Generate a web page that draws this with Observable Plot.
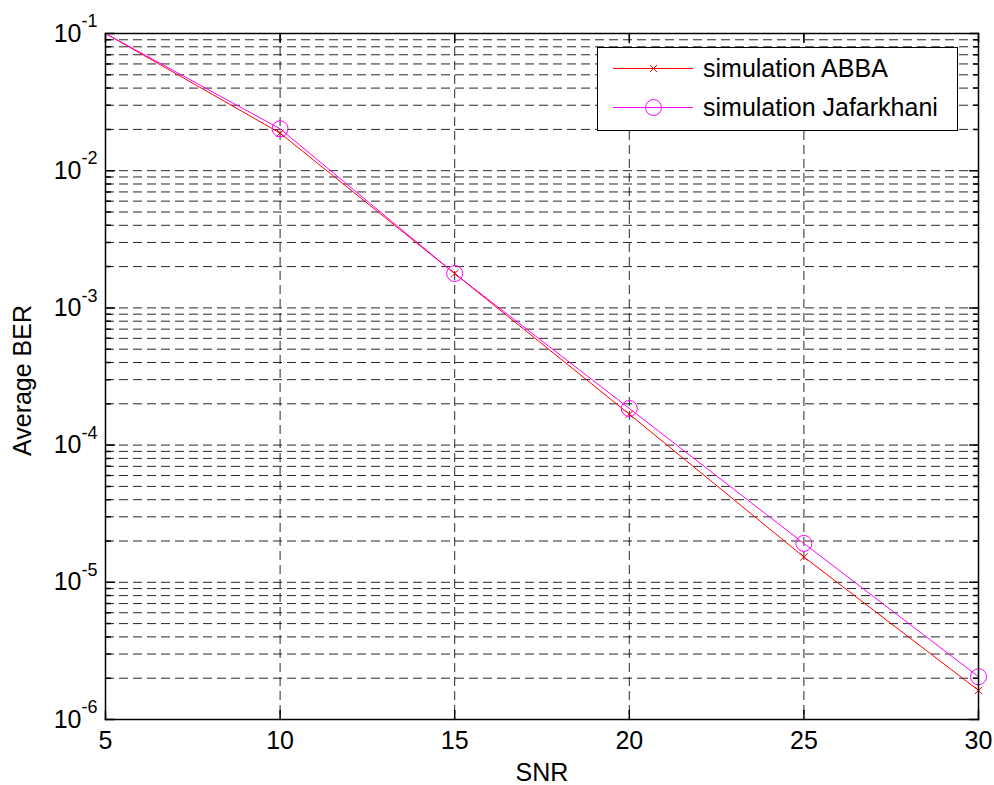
<!DOCTYPE html>
<html>
<head>
<meta charset="utf-8">
<script src="https://cdn.jsdelivr.net/npm/d3@7"></script>
<script src="https://cdn.jsdelivr.net/npm/@observablehq/plot@0.6"></script>
<style>
  html, body { margin: 0; padding: 0; background: #fff; }
  #wrap { position: relative; width: 994px; height: 785px; font-family: "Liberation Sans", Arial, sans-serif; }
  #wrap > svg { position: absolute; left: 0; top: 0; }
</style>
</head>
<body>
<div id="wrap"></div>
<script>
// ---- data ----
const snr = [5, 10, 15, 20, 25, 30];
const berABBA = [0.1, 0.0188, 0.00178, 0.000168, 0.0000153, 0.00000163];
const berJafarkhani = [0.1, 0.0202, 0.00178, 0.000185, 0.0000192, 0.00000205];
const seriesNames = ["simulation ABBA", "simulation Jafarkhani"];
const seriesColors = ["#ff0000", "#ff00ff"];
const seriesSymbols = ["times", "circle"];
const xTicks = [5, 10, 15, 20, 25, 30];
const yExponents = [-6, -5, -4, -3, -2, -1];
const xLabel = "SNR";
const yLabel = "Average BER";

// ---- derived tables ----
const yDecades = yExponents.map(e => Math.pow(10, e));
const yMinor = [];
yDecades.slice(0, -1).forEach(d => { for (let m = 2; m <= 9; m++) yMinor.push(d * m); });
const yAllGrid = yDecades.concat(yMinor);

const series = [berABBA, berJafarkhani];
const rows = [];
series.forEach((vals, s) => vals.forEach((v, i) => rows.push({snr: snr[i], ber: v, name: seriesNames[s]})));
const markerRows = rows.filter(d => d.snr > snr[0]);

const tickShape = {draw(context, l) { context.moveTo(0, 0); context.lineTo(0, -l); }};
const FS = 25;

const chart = Plot.plot({
  width: 994,
  height: 785,
  marginLeft: 105,
  marginRight: 16,
  marginTop: 33,
  marginBottom: 66,
  style: {fontFamily: "'Liberation Sans', Arial, sans-serif", background: "#fff", color: "#000"},
  x: {domain: [5, 30], axis: null},
  y: {type: "log", domain: [1e-6, 1e-1], axis: null},
  color: {domain: seriesNames, range: seriesColors},
  marks: [
    Plot.gridY(yAllGrid, {stroke: "#000", strokeOpacity: 0.85, strokeWidth: 1, strokeDasharray: "9,5"}),
    Plot.gridX(xTicks, {stroke: "#000", strokeOpacity: 0.85, strokeWidth: 1, strokeDasharray: "9,5"}),
    // inward tick marks
    Plot.vector(xTicks, {x: d => d, frameAnchor: "bottom", length: 9, rotate: 0, anchor: "start", shape: tickShape, stroke: "#000"}),
    Plot.vector(xTicks, {x: d => d, frameAnchor: "top", length: 9, rotate: 180, anchor: "start", shape: tickShape, stroke: "#000"}),
    Plot.vector(yDecades, {y: d => d, frameAnchor: "left", length: 9, rotate: 90, anchor: "start", shape: tickShape, stroke: "#000"}),
    Plot.vector(yDecades, {y: d => d, frameAnchor: "right", length: 9, rotate: -90, anchor: "start", shape: tickShape, stroke: "#000"}),
    Plot.vector(yMinor, {y: d => d, frameAnchor: "left", length: 5, rotate: 90, anchor: "start", shape: tickShape, stroke: "#000"}),
    Plot.vector(yMinor, {y: d => d, frameAnchor: "right", length: 5, rotate: -90, anchor: "start", shape: tickShape, stroke: "#000"}),
    // series
    Plot.line(rows, {x: "snr", y: "ber", z: "name", stroke: "name", strokeWidth: 1, clip: true}),
    Plot.dot(markerRows.filter(d => d.name === seriesNames[0]), {x: "snr", y: "ber", symbol: () => seriesSymbols[0], r: 3.5, stroke: seriesColors[0], strokeWidth: 1}),
    Plot.dot(markerRows.filter(d => d.name === seriesNames[1]), {x: "snr", y: "ber", symbol: () => seriesSymbols[1], r: 8, stroke: seriesColors[1], fill: "none", strokeWidth: 1}),
    Plot.frame({stroke: "#000", strokeWidth: 1.5}),
    // x tick labels
    Plot.text(xTicks, {x: d => d, frameAnchor: "bottom", text: d => String(d), fontSize: FS, lineAnchor: "top", dy: 12, fill: "#000"}),
    // y tick labels 10^e
    Plot.text(yDecades, {y: d => d, frameAnchor: "left", text: () => "10", fontSize: FS, textAnchor: "end", lineAnchor: "middle", dx: -24, fill: "#000"}),
    Plot.text(yExponents.map((e, i) => ({e, v: yDecades[i]})), {y: "v", frameAnchor: "left", text: d => String(d.e), fontSize: 18, textAnchor: "start", lineAnchor: "middle", dx: -24, dy: -12, fill: "#000"}),
    // axis labels
    Plot.text([xLabel], {frameAnchor: "bottom", text: d => d, fontSize: FS, lineAnchor: "top", dy: 44, fill: "#000"}),
    Plot.text([yLabel], {frameAnchor: "left", text: d => d, fontSize: FS, rotate: -90, textAnchor: "middle", lineAnchor: "middle", dx: -83, dy: 4, fill: "#000"})
  ]
});

const wrap = document.getElementById("wrap");
wrap.appendChild(chart);

// ---- legend (inside the axes, top right) ----
const ns = "http://www.w3.org/2000/svg";
const leg = d3.select(wrap).append("svg")
  .attr("width", 362).attr("height", 84)
  .style("left", "597px").style("top", "47px")
  .style("font-family", "'Liberation Sans', Arial, sans-serif");
leg.append("rect").attr("x", 0.5).attr("y", 0.5).attr("width", 360).attr("height", 83)
  .attr("fill", "#fff").attr("stroke", "#000").attr("stroke-width", 1);
seriesNames.forEach((name, i) => {
  const cy = 21.5 + i * 39;
  const g = leg.append("g");
  g.append("line").attr("x1", 16).attr("x2", 96).attr("y1", cy).attr("y2", cy)
    .attr("stroke", seriesColors[i]).attr("stroke-width", 1);
  if (seriesSymbols[i] === "circle") {
    g.append("circle").attr("cx", 56.5).attr("cy", cy).attr("r", 8)
      .attr("fill", "none").attr("stroke", seriesColors[i]).attr("stroke-width", 1);
  } else {
    g.append("path").attr("d", `M${56.5-3.7},${cy-3.7}L${56.5+3.7},${cy+3.7}M${56.5-3.7},${cy+3.7}L${56.5+3.7},${cy-3.7}`)
      .attr("stroke", seriesColors[i]).attr("stroke-width", 1);
  }
  g.append("text").attr("x", 106).attr("y", cy).attr("dy", "0.35em")
    .attr("font-size", FS).attr("fill", "#000").text(name);
});
</script>
</body>
</html>
